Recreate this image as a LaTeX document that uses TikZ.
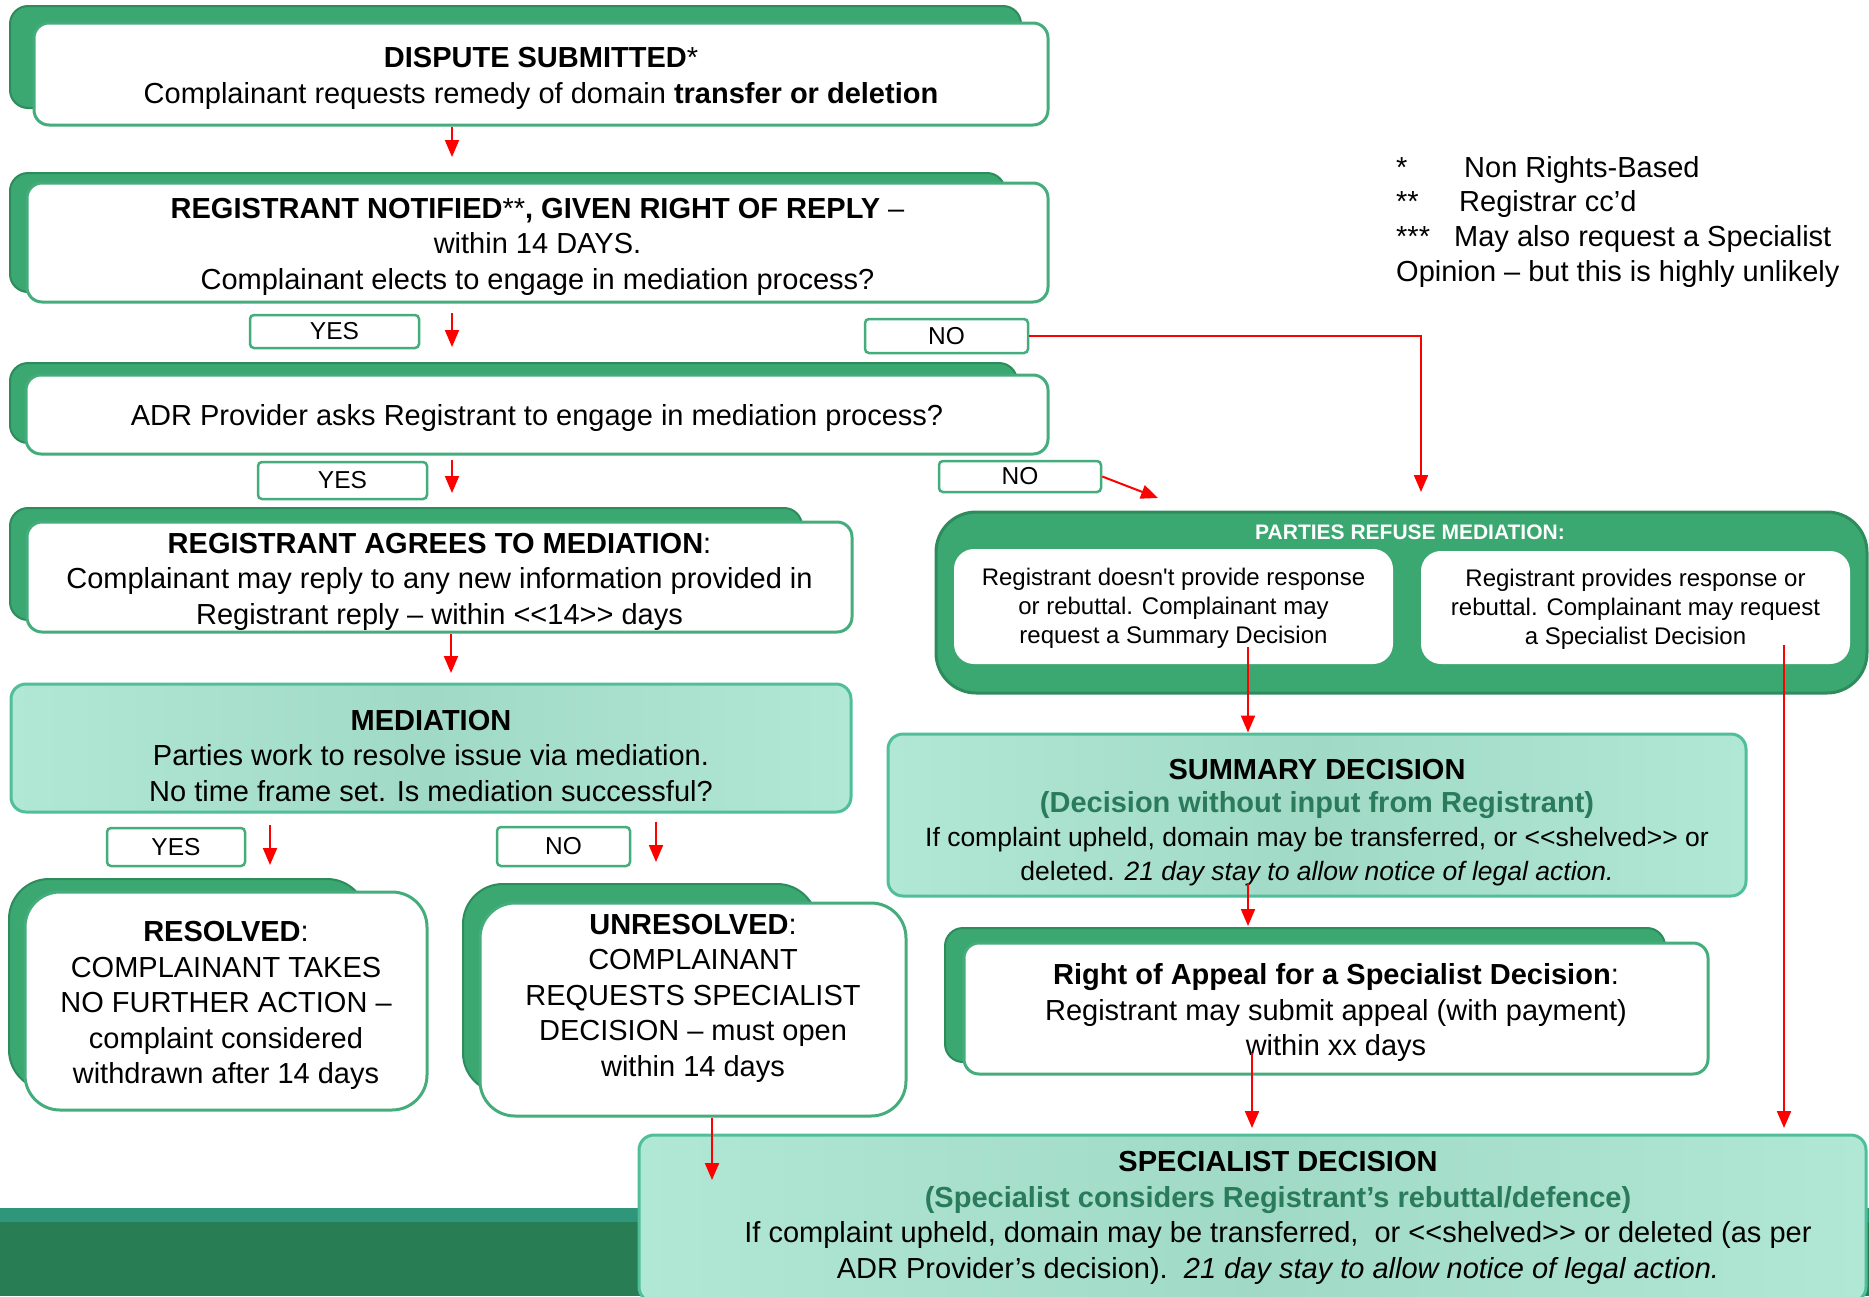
\documentclass[tikz,border=0pt]{standalone}
\usepackage{fontspec}
\setmainfont{Liberation Sans}
\usetikzlibrary{calc,arrows.meta}

\definecolor{shadegreen}{HTML}{3AA870}
\definecolor{shadeedge}{HTML}{2E8B5C}
\definecolor{boxgreen}{HTML}{45AC7C}
\definecolor{mintfill}{HTML}{B1E7D5}
\definecolor{mintmid}{HTML}{A0DAC6}
\definecolor{mintedge}{HTML}{4FBF9A}
\definecolor{subteal}{HTML}{2A7A5C}
\definecolor{bandlight}{HTML}{2F957B}
\definecolor{banddark}{HTML}{287D55}
\definecolor{arrowred}{HTML}{FF0000}

\newcommand{\mainfs}{\fontsize{29}{35.5}\selectfont}
\newcommand{\sumfs}{\fontsize{26.5}{33.7}\selectfont}
\newcommand{\subfs}{\fontsize{24}{29}\selectfont}
\newcommand{\tagfs}{\fontsize{24.5}{28}\selectfont}
\newcommand{\titlefs}{\fontsize{21}{25}\selectfont}
\newcommand{\notefs}{\fontsize{29}{34.7}\selectfont}
\newcommand{\topstrut}[1][29pt]{\rule{0pt}{#1}}
\newcommand{\dlt}{<\kern0pt<}
\newcommand{\dgt}{>\kern0pt>}

\tikzset{
  wbox/.style={draw=boxgreen, line width=3pt, fill=white, rounded corners=15pt,
    align=center, font=\mainfs, inner sep=0pt},
  mintbox/.style={draw=mintedge, line width=3pt, left color=mintfill, right color=mintfill,
    middle color=mintmid, rounded corners=15pt, align=center, font=\mainfs, inner sep=0pt},
  tagbox/.style={draw=boxgreen, line width=2.5pt, fill=white, rounded corners=4pt,
    font=\tagfs, inner sep=0pt},
  backbox/.style={fill=shadegreen, draw=shadeedge, line width=2pt},
  refbox/.style={fill=shadegreen, draw=shadeedge, line width=3pt, rounded corners=40pt},
  subwbox/.style={fill=white, rounded corners=20pt, align=center, font=\subfs, inner sep=0pt},
  txt/.style={align=center, font=\mainfs, inner sep=0pt},
  redarrow/.style={draw=arrowred, line width=2pt, -{Triangle[length=17pt,width=14pt]}}
}

\begin{document}
\begin{tikzpicture}[x=1pt, y=-1pt]
    \useasboundingbox (0,0) rectangle (1869,1296);
    \clip (0,0) rectangle (1869,1296);

    \fill[bandlight] (0,1208) rectangle (1869,1222);
    \fill[banddark] (0,1222) rectangle (1869,1296);

    \foreach \xa/\ya/\xb/\yb/\r in {10/6/1021/108/18, 10/173/1005/292/18, 10/363/1017/443/18,
        10/508/802/620/18, 9/879/367/1090/40, 463/884/817/1093/40, 945/928/1665/1062/18}
      \draw[backbox, rounded corners=\r pt] (\xa,\ya) rectangle (\xb,\yb);

    \node[wbox, minimum width=1014pt, minimum height=102pt] (disp) at (541,74)
      {\topstrut\textbf{DISPUTE SUBMITTED}*\\Complainant requests remedy of domain \textbf{transfer or deletion}};
    \node[wbox, minimum width=1021pt, minimum height=119pt] (notif) at (537.5,242.5)
      {\topstrut\textbf{REGISTRANT NOTIFIED}**\textbf{, GIVEN RIGHT OF REPLY} –\\within 14 DAYS.\\Complainant elects to engage in mediation process?};
    \node[wbox, minimum width=1022pt, minimum height=79pt] (adr) at (537,414.5)
      {\topstrut ADR Provider asks Registrant to engage in mediation process?};
    \node[wbox, minimum width=825pt, minimum height=110pt] (agree) at (439.5,577)
      {\topstrut\textbf{REGISTRANT AGREES TO MEDIATION}:\\Complainant may reply to any new information provided in\\Registrant reply – within \dlt14\dgt{} days};

    \node[mintbox, minimum width=840pt, minimum height=128pt] (medi) at (431,748) {};
    \node[txt] (meditext) at (431,756)
      {\textbf{MEDIATION}\\Parties work to resolve issue via mediation.\\No time frame set. Is mediation successful?};

    \node[wbox, rounded corners=35pt, minimum width=402pt, minimum height=218pt] (resol) at (226,1001)
      {\topstrut\textbf{RESOLVED}:\\COMPLAINANT TAKES\\NO FURTHER ACTION –\\complaint considered\\withdrawn after 14 days};
    \node[wbox, rounded corners=35pt, minimum width=426pt, minimum height=213pt] (unres) at (693,1009.5) {};
    \node[txt] (unrestext) at (693,998)
      {\textbf{UNRESOLVED}:\\COMPLAINANT\\REQUESTS SPECIALIST\\DECISION – must open\\within 14 days};

    \node[refbox, minimum width=931pt, minimum height=181pt] (refuse) at (1401.5,602.5) {};
    \node[font=\titlefs\bfseries, text=white, inner sep=0pt] (refusetitle) at (1410,532)
      {PARTIES REFUSE MEDIATION:};
    \node[subwbox, minimum width=439pt, minimum height=115pt] (nores) at (1173.5,606.5)
      {\topstrut[21pt]Registrant doesn\textquotesingle t provide response\\or rebuttal. Complainant may\\request a Summary Decision};
    \node[subwbox, minimum width=429pt, minimum height=113pt] (withres) at (1635.5,607.5)
      {\topstrut[21pt]Registrant provides response or\\rebuttal. Complainant may request\\a Specialist Decision};

    \node[mintbox, font=\sumfs, minimum width=858pt, minimum height=162pt] (sumdec) at (1317,815)
      {{\mainfs\bfseries\topstrut[35pt]SUMMARY DECISION}\\{\mainfs\bfseries\color{subteal}(Decision without input from Registrant)}\\If complaint upheld, domain may be transferred, or \dlt shelved\dgt{} or\\deleted. \textit{21 day stay to allow notice of legal action.}};

    \node[wbox, minimum width=744pt, minimum height=131pt] (appeal) at (1336,1008.5)
      {\topstrut\textbf{Right of Appeal for a Specialist Decision}:\\Registrant may submit appeal (with payment)\\within xx days};

    \node[mintbox, minimum width=1227pt, minimum height=167pt] (specdec) at (1252.5,1218.5) {};
    \node[txt] (spectext) at (1278,1218)
      {\textbf{SPECIALIST DECISION}\\{\bfseries\color{subteal}(Specialist considers Registrant’s rebuttal/defence)}\\If complaint upheld, domain may be transferred,\ \ or \dlt shelved\dgt{} or deleted (as per\\ADR Provider’s decision).\ \ \textit{21 day stay to allow notice of legal action.}};

    \node[align=left, font=\notefs, inner sep=0pt, anchor=north west] (notes) at (1396,156)
      {\makebox[68pt][l]{*}Non Rights-Based\\\makebox[63pt][l]{**}Registrar cc’d\\\makebox[58pt][l]{***}May also request a Specialist\\Opinion – but this is highly unlikely};

    \node[tagbox, minimum width=169pt, minimum height=33pt] (yes1) at (334.5,331.5) {YES};
    \node[tagbox, minimum width=163pt, minimum height=34pt] (no1) at (946.5,336) {NO};
    \node[tagbox, minimum width=169pt, minimum height=37pt] (yes2) at (342.5,480.5) {YES};
    \node[tagbox, minimum width=162pt, minimum height=31pt] (no2) at (1020,476.5) {NO};
    \node[tagbox, minimum width=138pt, minimum height=38pt] (yes3) at (176,847) {YES};
    \node[tagbox, minimum width=133pt, minimum height=39pt] (no3) at (563.5,846.5) {NO};

    \coordinate (a1) at (452,157);
    \coordinate (a2s) at (452,313);
    \coordinate (a2) at (452,347);
    \coordinate (a3) at (1421,492);
    \coordinate (a4s) at (452,460);
    \coordinate (a4) at (452,493);
    \coordinate (a5) at (1158,498);
    \coordinate (a6) at (451,673);
    \coordinate (a7s) at (270,825);
    \coordinate (a7) at (270,865);
    \coordinate (a8s) at (656,822);
    \coordinate (a8) at (656,862);
    \coordinate (a9s) at (1248,647);
    \coordinate (a10s) at (1248,883);
    \coordinate (a10) at (1248,926);
    \coordinate (a11s) at (1252,1053);
    \coordinate (a11) at (1252,1128);
    \coordinate (a12s) at (1784,645);
    \coordinate (a12) at (1784,1128);
    \coordinate (a13) at (712,1180);

    \draw[redarrow] (disp.south -| a1) -- (a1);
    \draw[redarrow] (a2s) -- (a2);
    \draw[redarrow] (no1.east) -- (no1.east -| a3) -- (a3);
    \draw[redarrow] (a4s) -- (a4);
    \draw[redarrow] (no2.east) -- (a5);
    \draw[redarrow] (agree.south -| a6) -- (a6);
    \draw[redarrow] (a7s) -- (a7);
    \draw[redarrow] (a8s) -- (a8);
    \draw[redarrow] (a9s) -- (a9s |- sumdec.north);
    \draw[redarrow] (a10s) -- (a10);
    \draw[redarrow] (a11s) -- (a11);
    \draw[redarrow] (a12s) -- (a12);
    \draw[redarrow] (unres.south -| a13) -- (a13);
\end{tikzpicture}
\end{document}
